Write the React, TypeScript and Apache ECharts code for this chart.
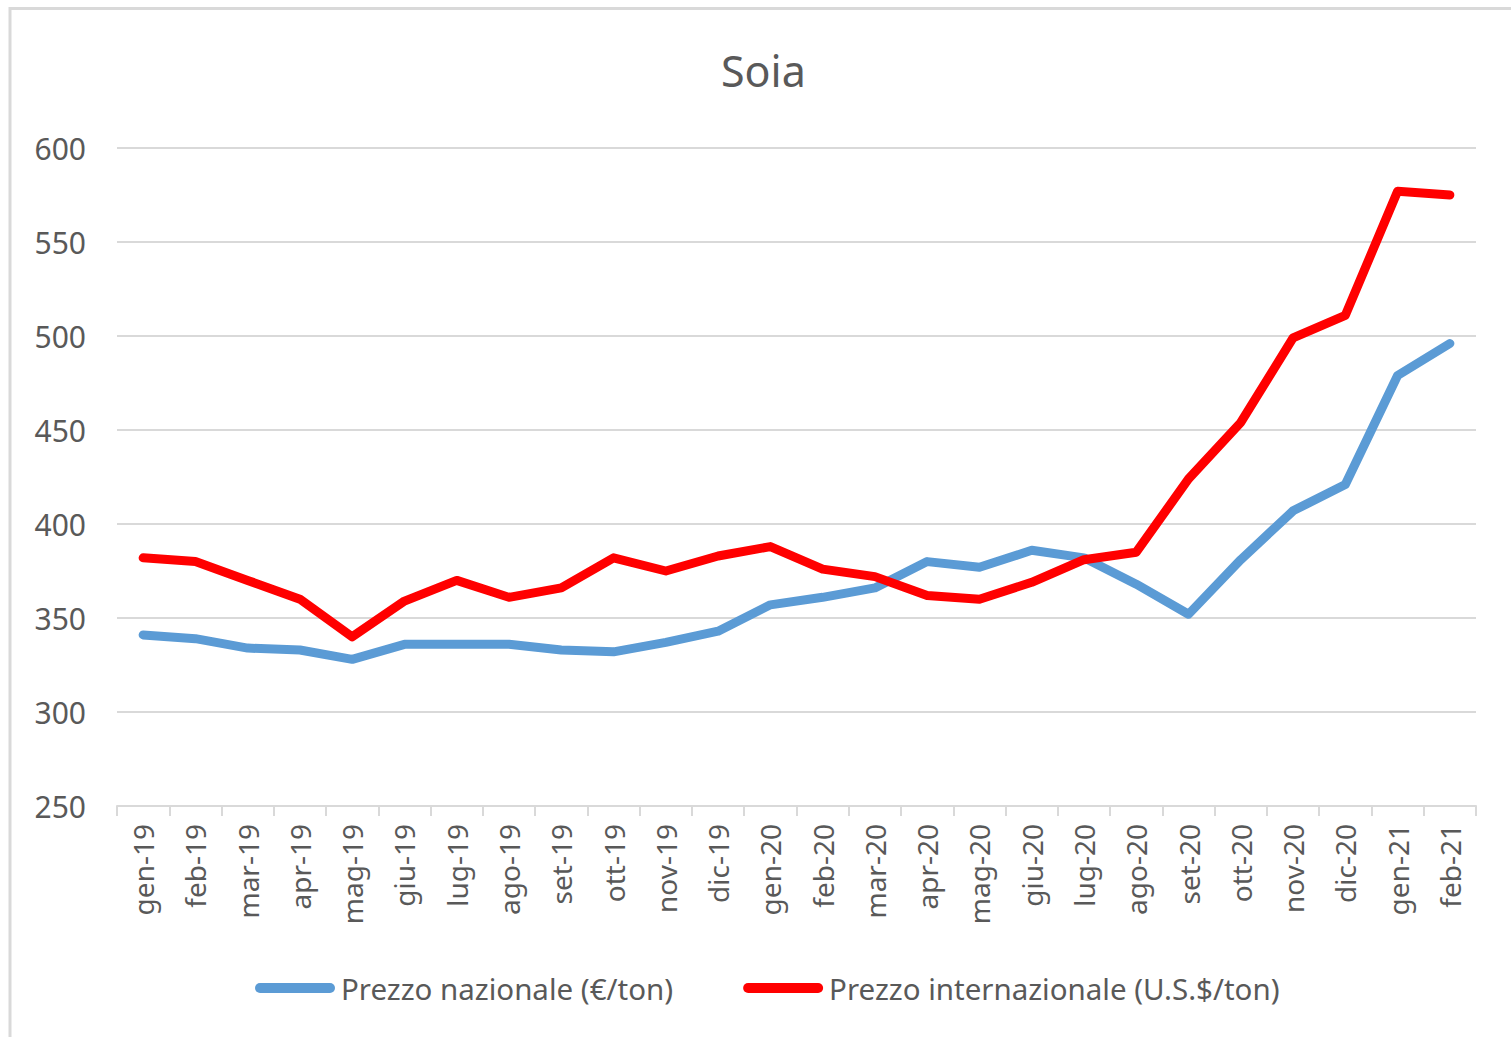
import React, { useEffect, useRef } from "react";
import * as echarts from "echarts";

const categories = [
  "gen-19", "feb-19", "mar-19", "apr-19", "mag-19", "giu-19", "lug-19", "ago-19",
  "set-19", "ott-19", "nov-19", "dic-19", "gen-20", "feb-20", "mar-20", "apr-20",
  "mag-20", "giu-20", "lug-20", "ago-20", "set-20", "ott-20", "nov-20", "dic-20",
  "gen-21", "feb-21",
];

const prezzoNazionale = [
  341, 339, 334, 333, 328, 336, 336, 336, 333, 332, 337, 343, 357, 361, 366, 380,
  377, 386, 382, 368, 352, 381, 407, 421, 479, 496,
];

const prezzoInternazionale = [
  382, 380, 370, 360, 340, 359, 370, 361, 366, 382, 375, 383, 388, 376, 372, 362,
  360, 369, 381, 385, 424, 454, 499, 511, 577, 575,
];

const yTicks = { min: 250, max: 600, interval: 50 };

const FONT = "'Noto Sans', 'Open Sans', sans-serif";
const TEXT = "#595959";
const GRID = "#d9d9d9";
const capsule = "path://M5,0 L75,0 A5,5 0 0 1 75,10 L5,10 A5,5 0 0 1 5,0 Z";

export default function App() {
  const ref = useRef<HTMLDivElement>(null);
  useEffect(() => {
    if (!ref.current) return;
    const chart = echarts.init(ref.current, null, { renderer: "svg" });
    chart.setOption({
      animation: false,
      backgroundColor: "#ffffff",
      title: {
        text: "Soia",
        left: 716,
        top: 44,
        textStyle: { fontFamily: FONT, fontSize: 43, fontWeight: "normal", color: TEXT },
      },
      graphic: [
        {
          type: "rect",
          shape: { x: 10, y: 8.5, width: 1700, height: 1200 },
          style: { fill: "none", stroke: GRID, lineWidth: 3 },
          silent: true,
          z: -1,
        },
      ],
      legend: {
        left: 250,
        top: 968,
        itemWidth: 82,
        itemHeight: 10,
        itemGap: 70,
        icon: capsule,
        textStyle: { fontFamily: FONT, fontSize: 29.5, color: TEXT },
        data: ["Prezzo nazionale (€/ton)", "Prezzo internazionale (U.S.$/ton)"],
      },
      grid: { left: 117, right: 35, top: 148, bottom: 231, containLabel: false },
      xAxis: {
        type: "category",
        data: categories,
        boundaryGap: true,
        axisLine: { lineStyle: { color: GRID, width: 2 } },
        axisTick: { show: true, alignWithLabel: false, length: 10, lineStyle: { color: GRID, width: 2 } },
        axisLabel: {
          interval: 0,
          rotate: 90,
          margin: 18,
          fontFamily: FONT,
          fontSize: 28,
          color: TEXT,
        },
      },
      yAxis: {
        type: "value",
        min: yTicks.min,
        max: yTicks.max,
        interval: yTicks.interval,
        axisLine: { show: false },
        axisTick: { show: false },
        axisLabel: { margin: 31, fontFamily: FONT, fontSize: 30, color: TEXT },
        splitLine: { lineStyle: { color: GRID, width: 2 } },
      },
      series: [
        {
          name: "Prezzo nazionale (€/ton)",
          type: "line",
          data: prezzoNazionale,
          showSymbol: false,
          symbol: "none",
          color: "#5B9BD5",
          lineStyle: { width: 9, color: "#5B9BD5", cap: "round", join: "round" },
        },
        {
          name: "Prezzo internazionale (U.S.$/ton)",
          type: "line",
          data: prezzoInternazionale,
          showSymbol: false,
          symbol: "none",
          color: "#FF0000",
          lineStyle: { width: 9, color: "#FF0000", cap: "round", join: "round" },
        },
      ],
    });
    return () => chart.dispose();
  }, []);
  return (
    <div
      ref={ref}
      style={{ position: "absolute", left: 0, top: 0, width: 1511, height: 1037 }}
    />
  );
}
